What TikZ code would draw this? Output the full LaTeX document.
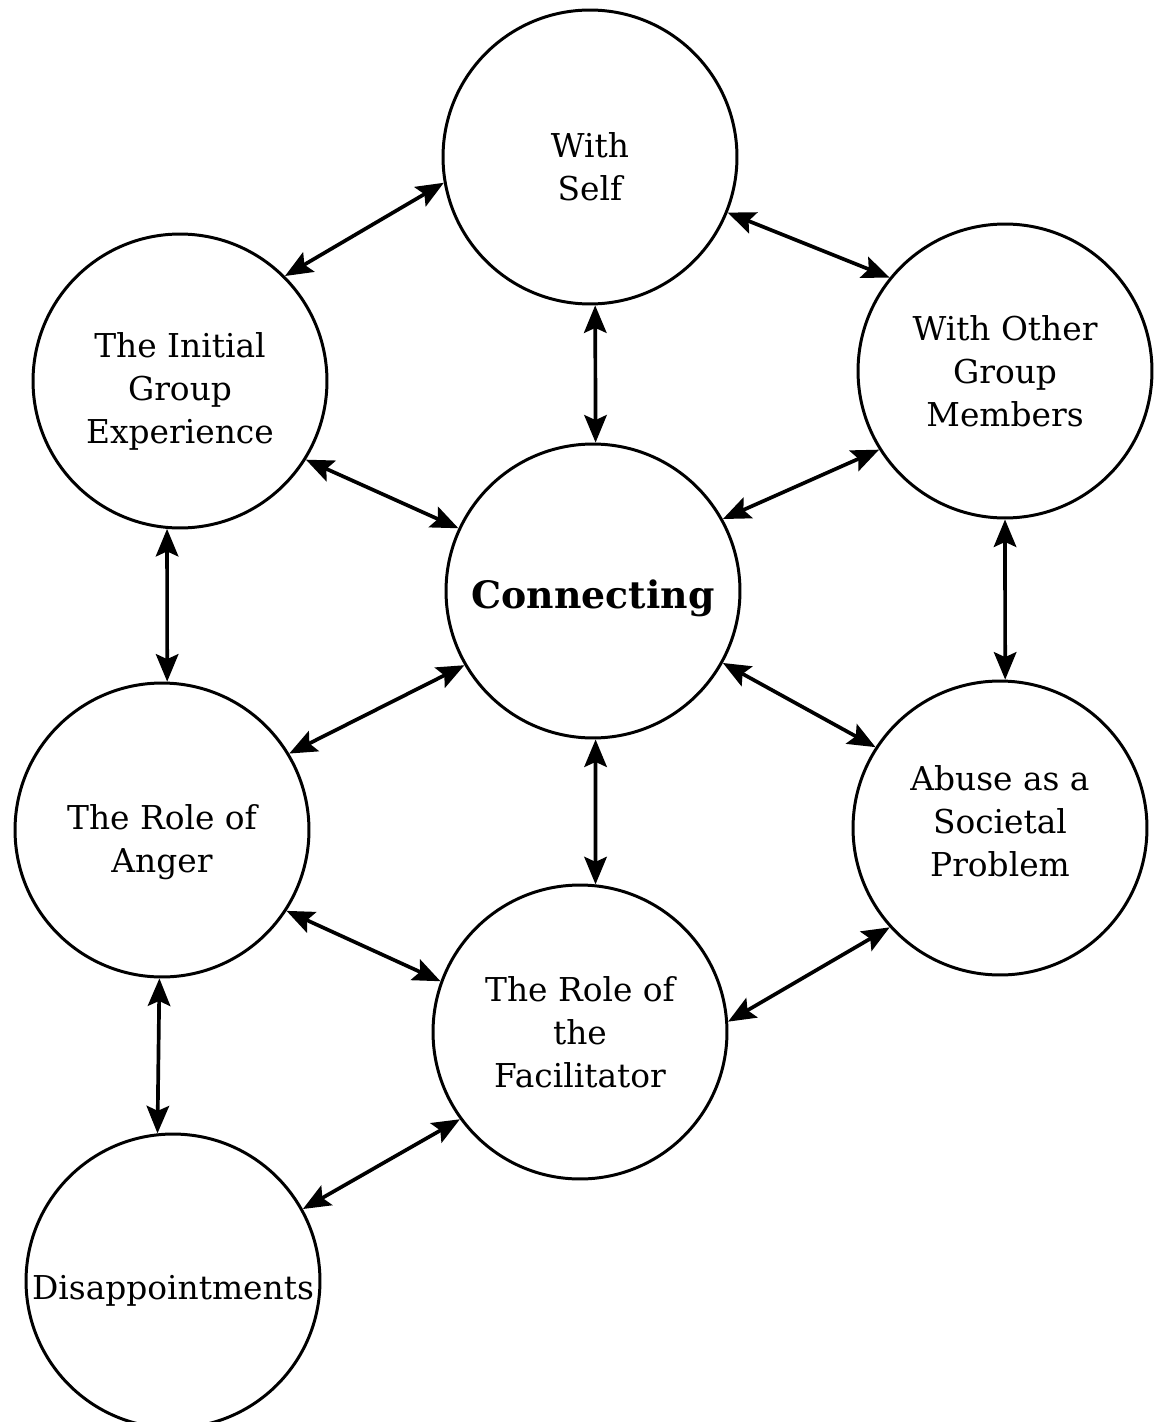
\documentclass[tikz,border=0pt]{standalone}
\usepackage{fontspec}
\setmainfont{DejaVu Serif}
\usetikzlibrary{arrows.meta}
\begin{document}
\begin{tikzpicture}[x=0.02cm,y=-0.02cm,
    topic/.style={circle,draw,line width=1.7pt,minimum size=5.88cm,inner sep=0pt,
      align=center,font=\fontsize{18.7}{24.5}\selectfont},
    >={Stealth[length=0.55cm,width=0.45cm,inset=0.1cm]}]
  \useasboundingbox (0,0) rectangle (1156,1422);
  \draw
    (590,157) node[topic] (self){\rule{0pt}{0.9cm}With\\Self}
    (180,381) node[topic] (initial){\rule{0pt}{0.9cm}The Initial\\Group\\Experience}
    (1005,371) node[topic] (members){With Other\\Group\\Members}
    (593,591) node[topic,font=\fontsize{21.5}{24}\selectfont\bfseries] (connecting){\rule{0pt}{0.85cm}Connecting}
    (162,830) node[topic] (anger){\rule{0pt}{0.98cm}The Role of\\Anger}
    (1000,828) node[topic] (abuse){Abuse as a\\Societal\\Problem\rule[-0.28cm]{0pt}{0pt}}
    (580,1032) node[topic] (facilitator){The Role of\\the\\Facilitator}
    (173,1281) node[topic] (disappoint){\rule{0pt}{0.86cm}Disappointments};
  \begin{scope}[<->,line width=2.1pt]
    \draw (initial.45) to (self.190);
    \draw (self.-22) to (members.141);
    \draw (self.-88) to (connecting.89);
    \draw (initial.-32) to (connecting.155);
    \draw (connecting.29) to (members.212);
    \draw (initial.-95) to (anger.88);
    \draw (members.-90) to (abuse.88);
    \draw (anger.31) to (connecting.210);
    \draw (connecting.-29) to (abuse.147);
    \draw (connecting.-89) to (facilitator.84);
    \draw (anger.-33) to (facilitator.160);
    \draw (facilitator.4) to (abuse.222);
    \draw (anger.-91) to (disappoint.96);
    \draw (disappoint.29) to (facilitator.216);
  \end{scope}
\end{tikzpicture}
\end{document}
